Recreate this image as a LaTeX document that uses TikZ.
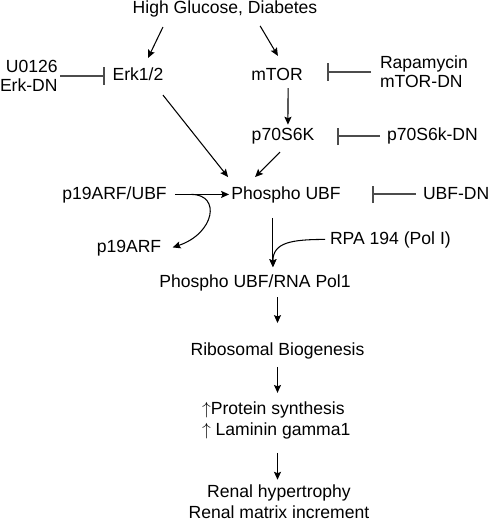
\documentclass[tikz,border=0pt]{standalone}
\usepackage{fontspec}
\setmainfont{Liberation Sans}
\usepackage{amsmath}
\usetikzlibrary{arrows.meta}

\begin{document}
\begin{tikzpicture}
[x=0.02cm, y=-0.02cm, >={Stealth[length=4.5pt, width=4pt, inset=0.8pt]},
 lbl/.style={inner sep=0, outer sep=0, font=\fontsize{10}{12}\selectfont, text height=7.3pt, text depth=2.1pt},
 lbls/.style={inner sep=0, outer sep=0, font=\fontsize{10}{11}\selectfont},
 act/.style={->, line width=0.6pt},
 inhibit/.style={-{Bar[width=10pt, line width=1.1pt]}, draw=black!70, line width=1.1pt}]
\useasboundingbox (0,0) rectangle (490,520);
\node (glucose) [lbl, anchor=base] at (225,14) {High Glucose, Diabetes};
\node (erk) [lbl, anchor=base] at (138,81) {Erk1/2};
\node (mtor) [lbl, anchor=base] at (277,81) {mTOR};
\node (erkinh) [lbls, align=right, anchor=east] at (57.6,76) {U0126\\Erk-DN};
\node (rapa) [lbls, align=left, anchor=west] at (380,72) {Rapamycin\\mTOR-DN};
\node (p70) [lbl, anchor=base] at (283,141) {p70S6K};
\node (p70dn) [lbl, anchor=base west] at (387,141) {p70S6k-DN};
\node (p19ubf) [lbl, anchor=base] at (114.5,199) {p19ARF/UBF};
\node (phospho) [lbl, anchor=base] at (286,199) {Phospho UBF};
\node (ubfdn) [lbl, anchor=base west] at (423,199) {UBF-DN};
\node (p19arf) [lbl, anchor=base] at (129,252) {p19ARF};
\node (rpa) [lbl, anchor=base west] at (330,244) {RPA 194 (Pol I)};
\node (pol1) [lbl, anchor=base] at (255,287) {Phospho UBF/RNA Pol1};
\node (ribo) [lbl, anchor=base] at (277.5,355) {Ribosomal Biogenesis};
\node (protein) [lbls, font=\fontsize{10}{12}\selectfont, align=left, anchor=north west] at (202,402) {$\uparrow$Protein synthesis\\$\uparrow$ Laminin gamma1};
\node (renal) [lbls, font=\fontsize{10}{12}\selectfont, align=center, anchor=north] at (279,485) {Renal hypertrophy\\Renal matrix increment};
\coordinate (pol1in) at ([xshift=10.2pt, yshift=4pt]pol1.north);
\draw [act] ([xshift=-35.3pt, yshift=-5.3pt]glucose.south) -- ([xshift=5.7pt, yshift=5.8pt]erk.north);
\draw [act] ([xshift=20pt, yshift=-4.7pt]glucose.south) -- ([xshift=0.5pt, yshift=7pt]mtor.north);
\draw [inhibit, shorten <=1.4pt, shorten >=4.3pt] (erkinh.east) -- (erkinh.east -| erk.west);
\draw [inhibit, shorten <=5.1pt, shorten >=13.7pt] (rapa.west) -- (rapa.west -| mtor.east);
\draw [act, shorten <=2pt, shorten >=2pt] ([xshift=6.3pt]mtor.south) -- ([xshift=2.8pt]p70.north);
\draw [inhibit, shorten <=4pt, shorten >=13pt] (p70dn.west) -- (p70.east);
\draw [act] ([xshift=14.2pt, yshift=-5.9pt]erk.south) -- ([xshift=-33pt, yshift=5.2pt]phospho.north);
\draw [act] ([xshift=-1.7pt, yshift=-4.2pt]p70.south) -- ([xshift=-17.6pt, yshift=5.2pt]phospho.north);
\draw [inhibit, shorten <=4pt, shorten >=17.8pt] (ubfdn.west) -- (phospho.east);
\draw [act, shorten <=4.7pt, shorten >=1.3pt] (p19ubf.east) -- (phospho.west);
\draw [act] ([xshift=14pt]p19ubf.east) .. controls +(17pt,0) and +(24pt,8pt) .. ([xshift=6.5pt]p19arf.east);
\draw [act, shorten <=8.7pt] (phospho.south -| pol1in) -- (pol1in);
\draw [act, shorten <=2.8pt] (rpa.west) .. controls +(-22pt,0) and +(0,14pt) .. (pol1in);
\draw [act, shorten <=3.6pt, shorten >=10.9pt] (ribo.north |- pol1.south) -- (ribo.north);
\draw [act, shorten <=4.7pt, shorten >=5.2pt] (ribo.south) -- (ribo.south |- protein.north);
\draw [act, shorten <=7.6pt, shorten >=3pt] (ribo.south |- protein.south) -- (ribo.south |- renal.north);
\end{tikzpicture}
\end{document}
